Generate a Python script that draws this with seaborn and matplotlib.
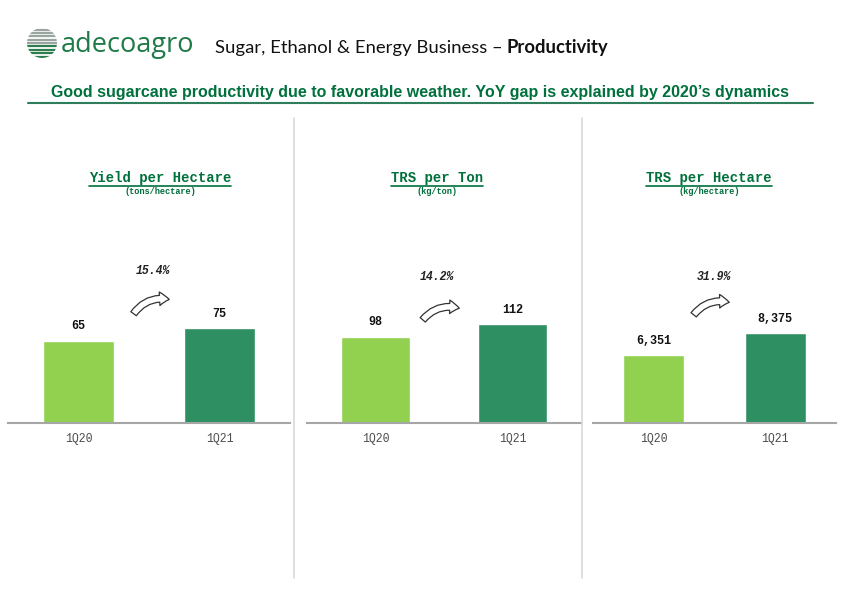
import numpy as np
import pandas as pd
import matplotlib
matplotlib.use("Agg")
import matplotlib.pyplot as plt
from matplotlib.patches import FancyArrowPatch, Circle
import seaborn as sns

# Data
quarters = ["1Q20", "1Q21"]
yield_ha = [65, 75]
trs_ton = [98, 112]
trs_ha = [6351, 8375]
growth = ["15.4%", "14.2%", "31.9%"]
titles = ["Yield per Hectare", "TRS per Ton", "TRS per Hectare"]
units = ["(tons/hectare)", "(kg/ton)", "(kg/hectare)"]

sns.set_style("white")
plt.rcParams['font.family'] = ['DejaVu Sans']

W, H = 842, 595
GREEN = "#00703C"
LIGHT = "#92D050"
DARK = "#2E8F62"
palette = {"1Q20": LIGHT, "1Q21": DARK}

fig = plt.figure(figsize=(W / 100, H / 100), dpi=100)


def px(x, y):
    return x / W, 1 - y / H


# header
lx, ly = px(42, 43)
logo = fig.add_axes([lx - 15 / W, ly - 15 / H, 30 / W, 30 / H])
logo.set_xlim(-1, 1)
logo.set_ylim(-1, 1)
logo.axis("off")
circ = Circle((0, 0), 1, transform=logo.transData, facecolor="none")
logo.add_patch(circ)
for i, yy in enumerate(np.linspace(-0.9, 0.9, 9)):
    c = "#2E7D4F" if yy < 0 else "#9AA5A0"
    ln, = logo.plot([-1, 1], [yy, yy], color=c, lw=1.6)
    ln.set_clip_path(circ)

fig.text(*px(61, 45), "adecoagro", fontsize=19.5, color="#1F7A48",
         family="Open Sans", va="center", ha="left")
head = fig.text(*px(215, 48), "Sugar, Ethanol & Energy Business \u2013", fontsize=13.3,
                family="Lato", va="center", ha="left", color="#111111")
fig.canvas.draw()
hb = head.get_window_extent()
fig.text(hb.x1 / W + 4 / W, 1 - 48 / H, "Productivity", fontsize=13.3, family="Lato",
         fontweight="bold", va="center", ha="left", color="#111111")

fig.text(*px(420, 93),
         "Good sugarcane productivity due to favorable weather. YoY gap is explained by 2020\u2019s dynamics",
         fontsize=11.5, family="Liberation Sans", fontweight="bold",
         color=GREEN, ha="center", va="center")
fig.add_artist(plt.Line2D([28 / W, 813 / W], [1 - 103 / H] * 2, color="#2E7D5B", lw=1.5))

# separators
for sx in [294, 582]:
    fig.add_artist(plt.Line2D([sx / W] * 2, [1 - 118 / H, 1 - 578 / H],
                              color="#D9D9D9", lw=1.2))

series = [yield_ha, trs_ton, trs_ha]
spans = [(8, 290), (307, 581), (593, 836)]
ytops = [142, 204, 16800]
axis_bottom, axis_top = 423, 243
title_x = [160, 437, 709]
pct_pos = [(153, 271), (437, 277), (714, 277)]
arrows = [((132, 316), (172, 300)), ((421, 322), (462, 309)), ((692, 317), (732, 303))]

for i, vals in enumerate(series):
    x0, x1 = spans[i]
    ax = fig.add_axes([x0 / W, 1 - axis_bottom / H, (x1 - x0) / W,
                       (axis_bottom - axis_top) / H])
    df = pd.DataFrame({"quarter": quarters, "value": vals})
    sns.barplot(data=df, x="quarter", y="value", hue="quarter", palette=palette,
                width=0.5, legend=False, ax=ax, saturation=1)
    ax.set_xlim(-0.5, 1.5)
    ax.set_ylim(0, ytops[i])
    for c in ax.containers:
        ax.bar_label(c, labels=[f"{v:,.0f}" for v in c.datavalues], padding=6,
                     fontsize=8.5, family="Liberation Mono", fontweight="bold",
                     color="#111111")
    ax.set_xlabel("")
    ax.set_ylabel("")
    ax.set_yticks([])
    ax.tick_params(axis="x", length=0, pad=7, labelsize=8.3, labelcolor="#4D4D4D")
    for lab in ax.get_xticklabels():
        lab.set_family("Liberation Mono")
    for s in ["top", "left", "right"]:
        ax.spines[s].set_visible(False)
    ax.spines["bottom"].set_color("#A6A6A6")
    ax.spines["bottom"].set_linewidth(1.5)
    ax.patch.set_alpha(0)

    t = fig.text(*px(title_x[i], 178), titles[i], fontsize=10, family="Liberation Mono",
                 fontweight="bold", color=GREEN, ha="center", va="center")
    fig.text(*px(title_x[i], 191), units[i], fontsize=6.2, family="Liberation Mono",
             fontweight="bold", color=GREEN, ha="center", va="center")
    fig.text(*px(*pct_pos[i]), growth[i], fontsize=8.3, family="Liberation Mono",
             style="italic", fontweight="bold", color="#222222", ha="center", va="center")
    (ax0, ay0), (ax1, ay1) = arrows[i]
    arr = FancyArrowPatch(px(ax0, ay0), px(ax1, ay1), transform=fig.transFigure,
                          connectionstyle="arc3,rad=-0.35",
                          arrowstyle="simple,head_width=0.7,head_length=0.5,tail_width=0.35",
                          mutation_scale=14, facecolor="white", edgecolor="#333333", lw=0.9)
    fig.add_artist(arr)
    # underline for panel title
    fig.canvas.draw()
    bb = t.get_window_extent()
    fig.add_artist(plt.Line2D([bb.x0 / W, bb.x1 / W], [bb.y0 / H - 1 / H] * 2,
                              color=GREEN, lw=1.2))

fig.savefig("out.png", dpi=100)
